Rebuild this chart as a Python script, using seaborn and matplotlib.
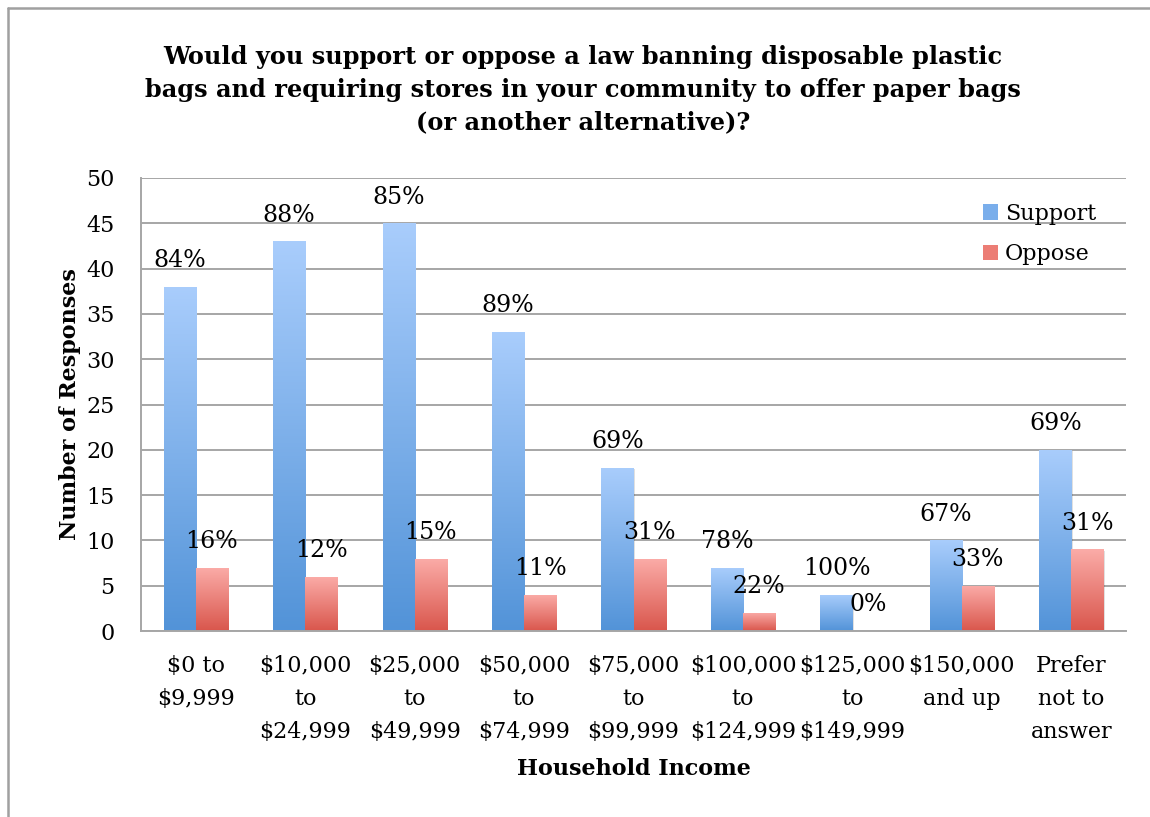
import numpy as np
import pandas as pd
import matplotlib
matplotlib.use("Agg")
import matplotlib.pyplot as plt
import seaborn as sns
from matplotlib.patches import Rectangle, Patch
from matplotlib.lines import Line2D
from matplotlib.colors import LinearSegmentedColormap

categories = ["$0 to\n$9,999", "$10,000\nto\n$24,999", "$25,000\nto\n$49,999",
              "$50,000\nto\n$74,999", "$75,000\nto\n$99,999", "$100,000\nto\n$124,999",
              "$125,000\nto\n$149,999", "$150,000\nand up", "Prefer\nnot to\nanswer"]
support = [38, 43, 45, 33, 18, 7, 4, 10, 20]
oppose = [7, 6, 8, 4, 8, 2, 0, 5, 9]
support_pct = ["84%", "88%", "85%", "89%", "69%", "78%", "100%", "67%", "69%"]
oppose_pct = ["16%", "12%", "15%", "11%", "31%", "22%", "0%", "33%", "31%"]
series = ["Support", "Oppose"]

sns.set_style("white")
plt.rcParams['font.family'] = ['DejaVu Serif']
plt.rcParams['text.color'] = 'black'
plt.rcParams['axes.labelcolor'] = 'black'
plt.rcParams['xtick.color'] = 'black'
plt.rcParams['ytick.color'] = 'black'

df = pd.DataFrame({
    "cat": categories * 2,
    "val": support + oppose,
    "series": [series[0]] * len(categories) + [series[1]] * len(categories),
})

W, H = 1150, 817
fig = plt.figure(figsize=(W / 100, H / 100), dpi=100)
ax = fig.add_axes([141 / W, 1 - 631 / H, (1126 - 141) / W, (631 - 178) / H])

grad = {
    "Support": ("#A9CDFC", "#5293D8"),
    "Oppose": ("#FBACA8", "#D9564C"),
}
mid = {"Support": "#7AAEEB", "Oppose": "#EC7D75"}

sns.barplot(data=df, x="cat", y="val", hue="series", order=categories,
            hue_order=series, width=0.585, gap=0, palette=mid, ax=ax,
            legend=False, saturation=1)

ax.set_ylim(0, 50)
ax.set_xlim(-0.5, len(categories) - 0.5)

# gradient fill per bar
for cont, s in zip(ax.containers, series):
    cmap = LinearSegmentedColormap.from_list(s, [grad[s][1], grad[s][0]])
    for p in cont.patches:
        x, y, w, h = p.get_x(), p.get_y(), p.get_width(), p.get_height()
        if h <= 0:
            p.set_visible(False)
            continue
        sh = Rectangle((x + 0.012, y), w, h - 0.15, facecolor="#000000",
                       alpha=0.12, edgecolor="none", zorder=1.5)
        ax.add_patch(sh)
        p.set_facecolor("none")
        p.set_edgecolor("none")
        p.set_zorder(2)
        g = np.linspace(0, 1, 256).reshape(-1, 1)
        im = ax.imshow(g, cmap=cmap, origin="lower", aspect="auto",
                       extent=[x, x + w, y, y + h], zorder=2, interpolation="bilinear")
        im.set_clip_path(p)

ax.set_ylim(0, 50)
ax.set_xlim(-0.5, len(categories) - 0.5)

# percentage labels
for cont, labels in zip(ax.containers, [support_pct, oppose_pct]):
    for p, lab in zip(cont.patches, labels):
        ax.annotate(lab, (p.get_x() + p.get_width() / 2, p.get_height()),
                    xytext=(0, 10.5), textcoords="offset points", ha="center",
                    va="bottom", fontsize=17, zorder=5)

# grid and axes styling
gcol = "#A6A6A6"
ax.set_yticks(range(0, 51, 5))
ax.yaxis.grid(True, color=gcol, linewidth=1.4, zorder=0)
ax.set_axisbelow(True)
for s in ["top", "right"]:
    ax.spines[s].set_visible(False)
for s in ["left", "bottom"]:
    ax.spines[s].set_color(gcol)
    ax.spines[s].set_linewidth(1.4)
ax.tick_params(axis="y", which="major", direction="out", length=7, width=1.4,
               color=gcol, labelsize=16, pad=12)
ax.set_xticks(range(len(categories)))
ax.set_xticklabels(categories, fontsize=16, linespacing=1.65)
ax.set_xticks(np.arange(-0.5, len(categories), 1), minor=True)
ax.tick_params(axis="x", which="major", length=0, pad=17, labelsize=16)
ax.tick_params(axis="x", which="minor", direction="out", length=9, width=1.4, color=gcol)

ax.set_xlabel("Household Income", fontsize=16, fontweight="bold", labelpad=11)
ax.set_ylabel("Number of Responses", fontsize=16, fontweight="bold", labelpad=4)

handles = [Patch(facecolor=mid[s], edgecolor="none") for s in series]
ax.legend(handles, series, loc="upper right", bbox_to_anchor=(0.99, 0.99),
          frameon=False, fontsize=16, handlelength=0.7, handleheight=0.7,
          handletextpad=0.3, labelspacing=0.85)

fig.text(583 / W, 1 - 90 / H,
         "Would you support or oppose a law banning disposable plastic\n"
         "bags and requiring stores in your community to offer paper bags\n"
         "(or another alternative)?",
         ha="center", va="center", fontsize=17.3, fontweight="bold", linespacing=1.45)

# outer frame (left and top)
fig.add_artist(Line2D([7.5 / W, 7.5 / W], [0, 1 - 7.5 / H], transform=fig.transFigure,
                      color="#A0A0A0", linewidth=1.8))
fig.add_artist(Line2D([7.5 / W, 1], [1 - 7.5 / H, 1 - 7.5 / H], transform=fig.transFigure,
                      color="#A0A0A0", linewidth=1.8))

fig.savefig("out.png", dpi=100, facecolor="white")
